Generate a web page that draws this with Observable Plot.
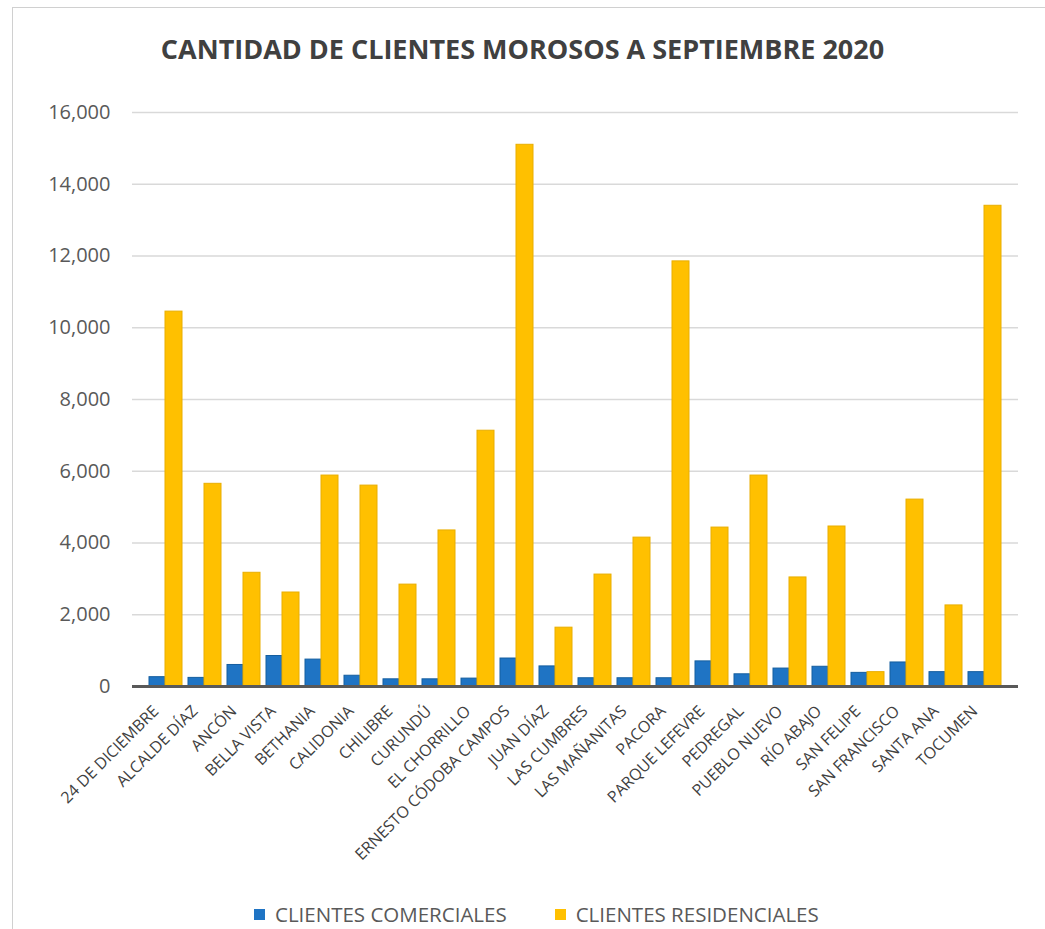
<!DOCTYPE html>
<html>
<head>
<meta charset="utf-8">
<script src="https://cdn.jsdelivr.net/npm/d3@7"></script>
<script src="https://cdn.jsdelivr.net/npm/@observablehq/plot@0.6"></script>
<style>
  html, body { margin: 0; padding: 0; background: #ffffff; }
  body { width: 1045px; height: 929px; position: relative; overflow: hidden; font-family: "Open Sans", sans-serif; }
  #frame { position: absolute; left: 12px; top: 7px; width: 1100px; height: 1000px; border-left: 1.5px solid #d0d0d0; border-top: 1.5px solid #d0d0d0; }
  #title { position: absolute; top: 30px; left: 0; width: 1045px; text-align: center; font-family: "Open Sans", sans-serif; font-weight: bold; font-size: 27px; color: #404040; }
  #chart { position: absolute; top: 85px; left: 0; }
  #legend { position: absolute; top: 900px; left: 254px; display: flex; align-items: center; font-size: 20.5px; color: #595959; }
  .sw { width: 11px; height: 11px; display: inline-block; margin-right: 10px; }
  .item { display: flex; align-items: center; }
</style>
</head>
<body>
<div id="frame"></div>
<div id="title"></div>
<div id="chart"></div>
<div id="legend"></div>
<script>
const title = "CANTIDAD DE CLIENTES MOROSOS A SEPTIEMBRE 2020";
const categories = ["24 DE DICIEMBRE", "ALCALDE DÍAZ", "ANCÓN", "BELLA VISTA", "BETHANIA", "CALIDONIA", "CHILIBRE", "CURUNDÚ", "EL CHORRILLO", "ERNESTO CÓDOBA CAMPOS", "JUAN DÍAZ", "LAS CUMBRES", "LAS MAÑANITAS", "PACORA", "PARQUE LEFEVRE", "PEDREGAL", "PUEBLO NUEVO", "RÍO ABAJO", "SAN FELIPE", "SAN FRANCISCO", "SANTA ANA", "TOCUMEN"];
const seriesNames = ["CLIENTES COMERCIALES", "CLIENTES RESIDENCIALES"];
const comerciales = [260, 240, 600, 850, 750, 300, 200, 200, 220, 780, 560, 230, 230, 230, 700, 340, 500, 550, 380, 670, 400, 400];
const residenciales = [10450, 5650, 3170, 2620, 5880, 5600, 2840, 4350, 7130, 15100, 1640, 3120, 4150, 11850, 4430, 5880, 3040, 4460, 400, 5210, 2260, 13400];
const yTicks = [0, 2000, 4000, 6000, 8000, 10000, 12000, 14000, 16000];
const colors = ["#1F74C4", "#FFC000"];

document.getElementById("title").textContent = title;

const blueData = categories.map((c, i) => ({barrio: c, tipo: seriesNames[0], valor: comerciales[i]}));
const yellowData = categories.map((c, i) => ({barrio: c, tipo: seriesNames[1], valor: residenciales[i]}));

const chart = Plot.plot({
  width: 1045,
  height: 796,
  marginTop: 27,
  marginBottom: 195,
  marginLeft: 132,
  marginRight: 27,
  style: {fontFamily: "Open Sans, sans-serif", background: "transparent"},
  x: {domain: categories, paddingInner: 0.15, paddingOuter: 0.257, label: null},
  y: {domain: [0, 16000], label: null},
  marks: [
    Plot.gridY(yTicks, {stroke: "#d9d9d9", strokeOpacity: 1, strokeWidth: 1.5}),
    Plot.barY(blueData, {x: "barrio", y: "valor", fill: colors[0], stroke: "#155e9f", strokeWidth: 1, insetRight: 17}),
    Plot.barY(yellowData, {x: "barrio", y: "valor", fill: colors[1], stroke: "#E9AE00", strokeWidth: 1, insetLeft: 16}),
    Plot.ruleY([0], {stroke: "#595959", strokeWidth: 3}),
    Plot.axisY(yTicks, {tickFormat: d3.format(","), tickSize: 0, tickPadding: 22, fontSize: 20, color: "#595959", label: null}),
    Plot.axisX({tickRotate: -45, tickSize: 0, tickPadding: 22, dx: -10, fontSize: 16, color: "#404040", label: null})
  ]
});
document.getElementById("chart").appendChild(chart);

const legend = document.getElementById("legend");
seriesNames.forEach((name, i) => {
  const item = document.createElement("div");
  item.className = "item";
  if (i > 0) item.style.marginLeft = "48px";
  const sw = document.createElement("span");
  sw.className = "sw";
  sw.style.background = colors[i];
  const t = document.createElement("span");
  t.textContent = name;
  item.appendChild(sw);
  item.appendChild(t);
  legend.appendChild(item);
});
</script>
</body>
</html>
